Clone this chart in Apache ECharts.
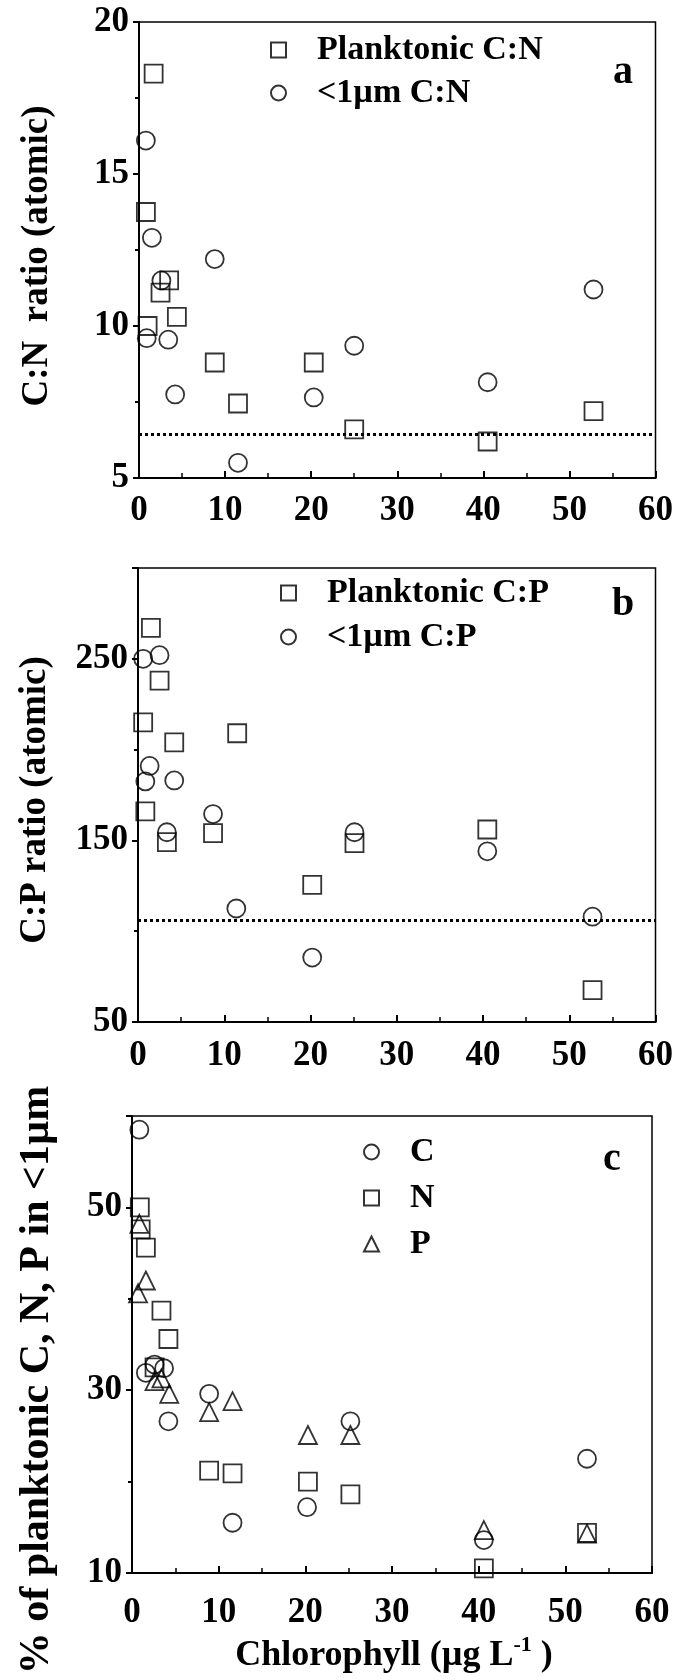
<!DOCTYPE html>
<html>
<head>
<meta charset="utf-8">
<script src="https://cdn.jsdelivr.net/npm/echarts@6/dist/echarts.min.js"></script>
<style>
html,body{margin:0;padding:0;background:#fff;}
#chart{width:676px;height:1680px;}
</style>
</head>
<body>
<div id="chart"></div>
<script>
// ---- Panel a: C:N ratio (atomic) ----
var cnPlankX = [0.8, 1.0, 1.7, 2.5, 3.5, 4.4, 8.8, 11.5, 20.3, 25.0, 40.5, 52.8];
var cnPlankY = [13.75, 10.0, 18.3, 11.1, 11.5, 10.3, 8.8, 7.45, 8.8, 6.6, 6.2, 7.2];
var cnSmallX = [0.8, 0.9, 1.5, 2.6, 3.4, 4.2, 8.8, 11.5, 20.3, 25.0, 40.5, 52.8];
var cnSmallY = [16.1, 9.6, 12.9, 11.5, 9.55, 7.75, 12.2, 5.5, 7.65, 9.35, 8.15, 11.2];
var redfieldCN = 6.45;

// ---- Panel b: C:P ratio (atomic) ----
var cpPlankX = [0.6, 0.85, 1.5, 2.5, 3.35, 4.2, 8.7, 11.5, 20.2, 25.1, 40.5, 52.7];
var cpPlankY = [215, 166, 267, 238, 149, 204, 154, 209, 125.5, 148.5, 156, 67.5];
var cpSmallX = [0.6, 0.85, 1.35, 2.5, 3.35, 4.2, 8.7, 11.4, 20.2, 25.1, 40.5, 52.7];
var cpSmallY = [250, 182.5, 191, 252, 154.5, 183, 164.5, 112.5, 85.5, 154.5, 144, 108];
var redfieldCP = 106;

// ---- Panel c: % of planktonic C, N, P in <1um ----
var pctCX = [0.85, 1.6, 2.6, 3.7, 4.2, 8.9, 11.6, 20.2, 25.2, 40.6, 52.5];
var pctCY = [58.5, 31.9, 32.8, 32.4, 26.6, 29.6, 15.5, 17.2, 26.6, 13.6, 22.5];
var pctNX = [0.9, 1.0, 1.6, 2.6, 3.4, 4.2, 8.9, 11.6, 20.3, 25.2, 40.6, 52.5];
var pctNY = [50.0, 47.6, 45.6, 32.5, 38.7, 35.6, 21.2, 20.9, 20.0, 18.6, 10.5, 14.4];
var pctPX = [0.85, 1.6, 0.7, 2.6, 3.4, 4.3, 8.9, 11.6, 20.3, 25.2, 40.6, 52.5];
var pctPY = [48.2, 42.0, 40.6, 31.0, 31.3, 29.6, 27.6, 28.8, 25.1, 25.1, 14.7, 14.3];

// ---- axis settings / labels ----
var xTicks = {min: 0, max: 60, interval: 10};
var yA = {min: 5, max: 20, interval: 5};
var yB = {min: 50, max: 300, interval: 100};
var yC = {min: 10, max: 60, interval: 20};
var legendA = ['Planktonic C:N', '<1µm C:N'];
var legendB = ['Planktonic C:P', '<1µm C:P'];
var legendC = ['C', 'N', 'P'];
var yTitleA = 'C:N  ratio (atomic)';
var yTitleB = 'C:P ratio (atomic)';
var yTitleC = '% of planktonic C, N, P in <1µm';
var xTitle = 'Chlorophyll (µg L';
var xTitleSup = '-1';

var FF = '"Liberation Serif", "Times New Roman", serif';

function zip(xs, ys) { return xs.map(function (x, i) { return [x, ys[i]]; }); }

function xAxisDef(idx, margin) {
  return {
    type: 'value', gridIndex: idx, min: xTicks.min, max: xTicks.max, interval: xTicks.interval,
    axisLine: {show: true, onZero: false, lineStyle: {color: '#000', width: 2}},
    axisTick: {show: true, inside: true, length: 7, lineStyle: {color: '#000', width: 2}},
    minorTick: {show: true, splitNumber: 2, length: 5, lineStyle: {color: '#000', width: 1.5}},
    splitLine: {show: false},
    axisLabel: {color: '#000', fontSize: 35, fontWeight: 'bold', fontFamily: FF, margin: margin}
  };
}
function yAxisDef(idx, r, showMax) {
  return {
    type: 'value', gridIndex: idx, min: r.min, max: r.max, interval: r.interval,
    axisLine: {show: true, onZero: false, lineStyle: {color: '#000', width: 2}},
    axisTick: {show: true, inside: false, length: 6, lineStyle: {color: '#000', width: 2}},
    minorTick: {show: true, splitNumber: 2, length: 4, lineStyle: {color: '#000', width: 2}},
    splitLine: {show: false},
    axisLabel: {color: '#000', fontSize: 35, fontWeight: 'bold', fontFamily: FF, margin: 10, showMaxLabel: showMax}
  };
}

var hollow = {color: 'rgba(255,255,255,0)', borderColor: '#000', borderWidth: 1.8};
function sc(name, data, symbol, idx, size) {
  return {
    type: 'scatter', name: name, data: data, symbol: symbol, symbolSize: size || 18,
    xAxisIndex: idx, yAxisIndex: idx, itemStyle: hollow, emphasis: {disabled: true}, z: 3
  };
}
function refLine(v) {
  return {
    silent: true, symbol: ['none', 'none'], label: {show: false},
    lineStyle: {type: [3, 3], width: 3, color: '#000'},
    data: [{yAxis: v}]
  };
}

var s1 = sc(legendA[0], zip(cnPlankX, cnPlankY), 'rect', 0);
s1.markLine = refLine(redfieldCN);
var s3 = sc(legendB[0], zip(cpPlankX, cpPlankY), 'rect', 1);
s3.markLine = refLine(redfieldCP);

var legendText = {color: '#000', fontSize: 34, fontWeight: 'bold', fontFamily: FF, lineHeight: 38, padding: [0, 0, 0, 26]};

var option = {
  backgroundColor: '#fff',
  animation: false,
  grid: [
    {left: 139, right: 16, top: 22, height: 456, show: true, borderColor: '#000', borderWidth: 1.5, backgroundColor: 'transparent'},
    {left: 138, right: 18, top: 568, height: 454, show: true, borderColor: '#000', borderWidth: 1.5, backgroundColor: 'transparent'},
    {left: 132, right: 24, top: 1116, height: 457, show: true, borderColor: '#000', borderWidth: 1.5, backgroundColor: 'transparent'}
  ],
  xAxis: [xAxisDef(0, 15), xAxisDef(1, 16), xAxisDef(2, 22)],
  yAxis: [yAxisDef(0, yA, true), yAxisDef(1, yB, false), yAxisDef(2, yC, false)],
  legend: [
    {data: legendA, orient: 'vertical', left: 265, top: 26, itemWidth: 15, itemHeight: 15, itemGap: 5, textStyle: legendText, selectedMode: false},
    {data: legendB, orient: 'vertical', left: 275, top: 569, itemWidth: 15, itemHeight: 15, itemGap: 6, textStyle: legendText, selectedMode: false},
    {data: legendC, orient: 'vertical', left: 358, top: 1128, itemWidth: 15, itemHeight: 15, itemGap: 8, textStyle: legendText, selectedMode: false}
  ],
  series: [
    s1,
    sc(legendA[1], zip(cnSmallX, cnSmallY), 'circle', 0),
    s3,
    sc(legendB[1], zip(cpSmallX, cpSmallY), 'circle', 1),
    sc(legendC[0], zip(pctCX, pctCY), 'circle', 2),
    sc(legendC[1], zip(pctNX, pctNY), 'rect', 2),
    sc(legendC[2], zip(pctPX, pctPY), 'triangle', 2)
  ],
  graphic: [
    {type: 'text', x: 623, y: 73, style: {text: 'a', font: 'bold 40px ' + FF, fill: '#000', align: 'center', verticalAlign: 'middle'}},
    {type: 'text', x: 623, y: 605, style: {text: 'b', font: 'bold 40px ' + FF, fill: '#000', align: 'center', verticalAlign: 'middle'}},
    {type: 'text', x: 612, y: 1160, style: {text: 'c', font: 'bold 40px ' + FF, fill: '#000', align: 'center', verticalAlign: 'middle'}},
    {type: 'text', x: 37, y: 256, rotation: Math.PI / 2, style: {text: yTitleA, font: 'bold 37px ' + FF, fill: '#000', align: 'center', verticalAlign: 'middle'}},
    {type: 'text', x: 35, y: 800, rotation: Math.PI / 2, style: {text: yTitleB, font: 'bold 37px ' + FF, fill: '#000', align: 'center', verticalAlign: 'middle'}},
    {type: 'text', x: 37, y: 1380, rotation: Math.PI / 2, style: {text: yTitleC, font: 'bold 42px ' + FF, fill: '#000', align: 'center', verticalAlign: 'middle'}},
    {type: 'text', x: 394, y: 1656, style: {
      text: '{m|' + xTitle + '}{s|' + xTitleSup + '}{m| )}',
      align: 'center', verticalAlign: 'middle', fill: '#000',
      rich: {
        m: {font: 'bold 36px ' + FF, fill: '#000', lineHeight: 44, verticalAlign: 'middle'},
        s: {font: 'bold 22px ' + FF, fill: '#000', lineHeight: 22, verticalAlign: 'top'}
      }
    }}
  ]
};

var chart = echarts.init(document.getElementById('chart'), null, {renderer: 'canvas'});
chart.setOption(option);
</script>
</body>
</html>
